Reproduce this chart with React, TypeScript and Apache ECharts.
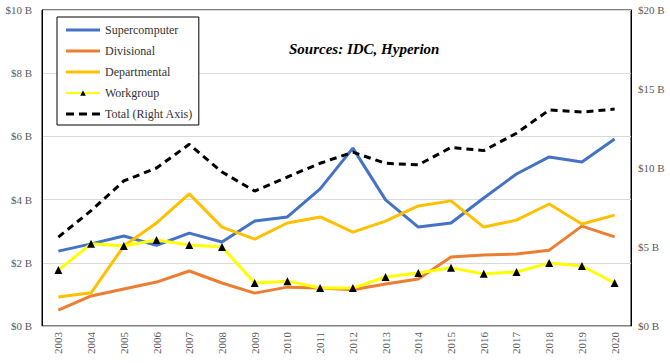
import React, { useEffect, useRef } from "react";
import * as echarts from "echarts";

const years = ["2003","2004","2005","2006","2007","2008","2009","2010","2011","2012","2013","2014","2015","2016","2017","2018","2019","2020"];
const supercomputer = [2.37, 2.6, 2.85, 2.55, 2.94, 2.66, 3.32, 3.45, 4.34, 5.63, 3.99, 3.13, 3.26, 4.05, 4.81, 5.35, 5.19, 5.92];
const divisional = [0.5, 0.95, 1.17, 1.39, 1.74, 1.36, 1.04, 1.23, 1.2, 1.15, 1.33, 1.49, 2.18, 2.25, 2.28, 2.4, 3.16, 2.82];
const departmental = [0.92, 1.05, 2.53, 3.26, 4.18, 3.13, 2.75, 3.26, 3.45, 2.97, 3.32, 3.8, 3.96, 3.13, 3.35, 3.86, 3.23, 3.51];
const workgroup = [1.77, 2.6, 2.53, 2.72, 2.56, 2.5, 1.36, 1.42, 1.2, 1.2, 1.55, 1.68, 1.84, 1.65, 1.71, 1.99, 1.9, 1.36];
const total = [5.63, 7.3, 9.18, 10.0, 11.5, 9.75, 8.54, 9.43, 10.3, 11.0, 10.3, 10.2, 11.3, 11.1, 12.2, 13.67, 13.54, 13.73];

const FONT = "'Liberation Serif', serif";
const SOLID_ICON = "path://M0,0h34v3h-34z";
const DASH_ICON = "path://M0,0h8v3h-8zM13,0h8v3h-8zM26,0h8v3h-8z";

export default function App() {
  const ref = useRef<HTMLDivElement>(null);
  useEffect(() => {
    if (!ref.current) return;
    document.body.style.margin = "0";
    const chart = echarts.init(ref.current, null, { renderer: "svg" });
    const lineSeries = (name: string, data: number[], color: string) => ({
      name,
      type: "line",
      data,
      yAxisIndex: 0,
      symbol: "none",
      lineStyle: { color, width: 3 },
      itemStyle: { color },
      z: 3,
    });
    chart.setOption({
      animation: false,
      textStyle: { fontFamily: FONT },
      grid: {
        left: 42, right: 39, top: 10, bottom: 37,
        show: true, borderColor: "#000", borderWidth: 1,
      },
      title: {
        text: "Sources: IDC, Hyperion",
        left: 284, top: 36,
        textStyle: { fontFamily: FONT, fontSize: 15, fontWeight: "bold", fontStyle: "italic", color: "#000" },
      },
      legend: {
        left: 57, top: 17,
        orient: "vertical",
        backgroundColor: "#fff",
        borderColor: "#000", borderWidth: 1,
        padding: [7, 6, 5, 8],
        itemWidth: 34, itemHeight: 7, itemGap: 9,
        textStyle: { fontFamily: FONT, fontSize: 12, color: "#333" },
        data: [
          { name: "Supercomputer", icon: SOLID_ICON },
          { name: "Divisional", icon: SOLID_ICON },
          { name: "Departmental", icon: SOLID_ICON },
          { name: "Workgroup" },
          { name: "Total (Right Axis)", icon: DASH_ICON },
        ],
      },
      xAxis: {
        type: "category",
        data: years,
        axisLine: { show: true, lineStyle: { color: "#bfbfbf" } },
        axisTick: { show: false },
        axisLabel: { rotate: 90, margin: 6, fontFamily: FONT, fontSize: 11, color: "#595959" },
      },
      yAxis: [
        {
          type: "value", min: 0, max: 10, interval: 2,
          axisLine: { show: true, lineStyle: { color: "#000" } },
          axisTick: { show: false },
          splitLine: { lineStyle: { color: "#d9d9d9" } },
          axisLabel: { formatter: (v: number) => `$${v} B`, margin: 10, fontFamily: FONT, fontSize: 11, color: "#595959" },
        },
        {
          type: "value", min: 0, max: 20, interval: 5,
          position: "right",
          axisLine: { show: true, lineStyle: { color: "#000" } },
          axisTick: { show: false },
          splitLine: { show: false },
          axisLabel: { formatter: (v: number) => `$${v} B`, margin: 7, fontFamily: FONT, fontSize: 11, color: "#595959" },
        },
      ],
      series: [
        lineSeries("Supercomputer", supercomputer, "#4472C4"),
        lineSeries("Divisional", divisional, "#ED7D31"),
        lineSeries("Departmental", departmental, "#FFC000"),
        {
          name: "Workgroup",
          type: "line",
          data: workgroup,
          yAxisIndex: 0,
          symbol: "triangle",
          symbolSize: 8,
          showSymbol: true,
          lineStyle: { color: "#FFFF00", width: 3 },
          itemStyle: { color: "#000" },
          z: 3,
        },
        {
          name: "Total (Right Axis)",
          type: "line",
          data: total,
          yAxisIndex: 1,
          symbol: "none",
          lineStyle: { color: "#000", width: 3, type: [7, 5] },
          itemStyle: { color: "#000" },
          z: 4,
        },
      ],
    });
    return () => chart.dispose();
  }, []);
  return <div ref={ref} style={{ width: 670, height: 363 }} />;
}
